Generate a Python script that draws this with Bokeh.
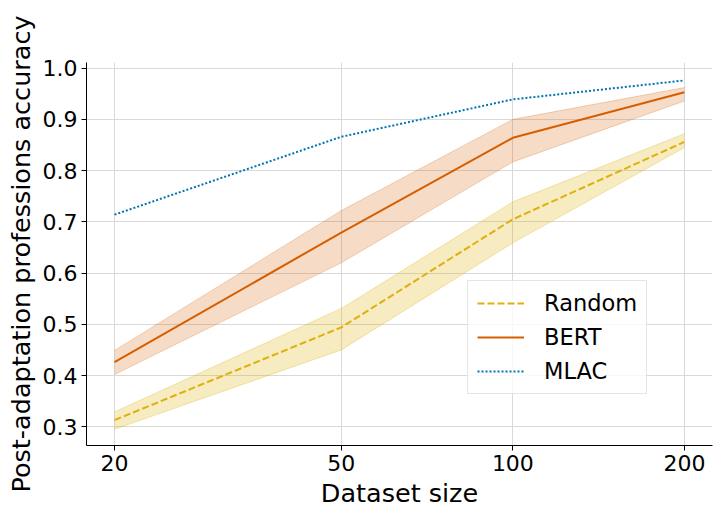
from bokeh.plotting import figure
from bokeh.models import Range1d, FixedTicker, Legend, LegendItem, PrintfTickFormatter
from bokeh.embed import file_html
from bokeh.resources import INLINE

sizes = [20, 50, 100, 200]
random_mean = [0.313, 0.494, 0.705, 0.856]
random_lo = [0.295, 0.450, 0.659, 0.845]
random_hi = [0.329, 0.531, 0.739, 0.872]
bert_mean = [0.426, 0.679, 0.864, 0.953]
bert_lo = [0.402, 0.620, 0.817, 0.936]
bert_hi = [0.449, 0.722, 0.900, 0.962]
mlac_mean = [0.714, 0.866, 0.939, 0.976]
y_ticks = [0.3, 0.4, 0.5, 0.6, 0.7, 0.8, 0.9, 1.0]

FONT = "DejaVu Sans"
C_RAND = "#dfb00c"
C_BERT = "#d55e00"
C_MLAC = "#0173b2"

p = figure(width=722, height=517, x_axis_type="log",
           x_range=Range1d(17.86, 224.0), y_range=Range1d(0.2634, 1.011),
           output_backend="svg", toolbar_location=None,
           min_border_left=86, min_border_right=10, min_border_top=62, min_border_bottom=72)
p.outline_line_color = None
p.background_fill_color = "white"

# bands
p.varea(x=sizes, y1=random_lo, y2=random_hi, fill_color=C_RAND, fill_alpha=0.25)
p.line(sizes, random_lo, line_color=C_RAND, line_alpha=0.3, line_width=1)
p.line(sizes, random_hi, line_color=C_RAND, line_alpha=0.3, line_width=1)
p.varea(x=sizes, y1=bert_lo, y2=bert_hi, fill_color=C_BERT, fill_alpha=0.22)
p.line(sizes, bert_lo, line_color=C_BERT, line_alpha=0.25, line_width=1)
p.line(sizes, bert_hi, line_color=C_BERT, line_alpha=0.25, line_width=1)

r_rand = p.line(sizes, random_mean, line_color=C_RAND, line_width=2, line_dash="7 3")
r_bert = p.line(sizes, bert_mean, line_color=C_BERT, line_width=2)
r_mlac = p.line(sizes, mlac_mean, line_color=C_MLAC, line_width=2, line_dash="2 2")

# axes
p.xaxis.ticker = FixedTicker(ticks=sizes)
p.xaxis.major_label_overrides = {s: str(s) for s in sizes}
p.yaxis.ticker = FixedTicker(ticks=y_ticks)
p.yaxis.formatter = PrintfTickFormatter(format="%.1f")
for ax in (p.xaxis, p.yaxis):
    ax.axis_line_color = "black"
    ax.axis_line_width = 1
    ax.major_tick_line_color = "black"
    ax.major_tick_out = 5
    ax.major_tick_in = 0
    ax.minor_tick_line_color = None
    ax.major_label_text_font = FONT
    ax.major_label_text_font_size = "22px"
    ax.major_label_text_color = "black"
    ax.major_label_standoff = 4
    ax.axis_label_text_font = FONT
    ax.axis_label_text_font_size = "25.5px"
    ax.axis_label_text_font_style = "normal"
    ax.axis_label_text_color = "black"
p.xaxis.axis_label = "Dataset size"
p.yaxis.axis_label = "Post-adaptation professions accuracy"
p.xaxis.axis_label_standoff = 4
p.yaxis.axis_label_standoff = 4

p.xgrid.grid_line_color = "#d9d9d9"
p.ygrid.grid_line_color = "#d9d9d9"
p.xgrid.grid_line_width = 1
p.ygrid.grid_line_width = 1
p.xgrid.minor_grid_line_color = None

legend = Legend(items=[LegendItem(label="Random", renderers=[r_rand]),
                       LegendItem(label="BERT", renderers=[r_bert]),
                       LegendItem(label="MLAC", renderers=[r_mlac])],
                location=(381, 51))
legend.label_text_font = FONT
legend.label_text_font_size = "22.5px"
legend.label_text_color = "black"
legend.label_height = 26
legend.glyph_height = 26
legend.glyph_width = 47
legend.label_standoff = 20
legend.spacing = 8
legend.padding = 9
legend.margin = 0
legend.border_line_color = "#cccccc"
legend.border_line_width = 1
legend.background_fill_color = "white"
legend.background_fill_alpha = 0.8
p.add_layout(legend, "center")

open("out.html", "w").write(file_html(p, INLINE))
